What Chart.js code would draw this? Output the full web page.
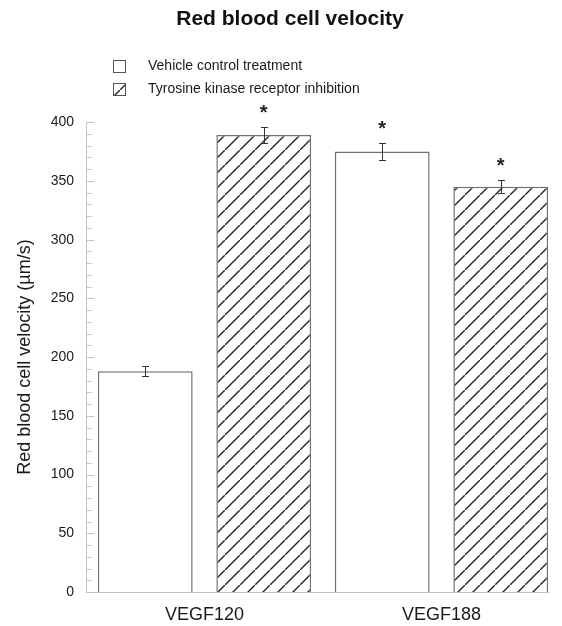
<!DOCTYPE html>
<html lang="en">
<head>
<meta charset="utf-8">
<title>Red blood cell velocity</title>
<script src="https://cdn.jsdelivr.net/npm/chart.js@4"></script>
<style>
  html, body { margin: 0; padding: 0; background: #fff; }
  #velocityChart { display: block; }
</style>
</head>
<body>
<canvas id="velocityChart" width="562" height="626"></canvas>
<script>
// Datos
const categories = ['VEGF120', 'VEGF188'];
const seriesLabels = ['Vehicle control treatment', 'Tyrosine kinase receptor inhibition'];
const vehicleValues = [188, 375];
const vehicleErrors = [4, 7];
const vehicleSignificant = [false, true];
const inhibitionValues = [389, 345];
const inhibitionErrors = [7, 5.5];
const inhibitionSignificant = [true, true];
const yTicks = [0, 50, 100, 150, 200, 250, 300, 350, 400];
const yMinorStep = 10;

const FONT = "'Liberation Sans', Arial, Helvetica, sans-serif";
const AXIS_COLOR = '#c4c4c4';
const BAR_BORDER = '#707070';

// Patrón de rayas diagonales para la serie de inhibición
function makeHatch() {
    const size = 15;
    const c = document.createElement('canvas');
    c.width = size;
    c.height = size;
    const g = c.getContext('2d');
    g.fillStyle = '#fff';
    g.fillRect(0, 0, size, size);
    g.strokeStyle = '#262626';
    g.lineWidth = 1.4;
    g.beginPath();
    g.moveTo(-2, size + 2);
    g.lineTo(size + 2, -2);
    g.stroke();
    return g.createPattern(c, 'repeat');
}

// Barras de error y asteriscos
const errorBarsPlugin = {
    id: 'errorBars',
    afterDatasetsDraw(chart) {
        const ctx = chart.ctx;
        const y = chart.scales.y;
        const errs = [vehicleErrors, inhibitionErrors];
        const sig = [vehicleSignificant, inhibitionSignificant];
        chart.data.datasets.forEach((ds, di) => {
            const meta = chart.getDatasetMeta(di);
            meta.data.forEach((bar, i) => {
                const v = ds.data[i];
                const e = errs[di][i];
                const top = Math.round(y.getPixelForValue(v + e)) + 0.5;
                const bot = Math.round(y.getPixelForValue(v - e)) + 0.5;
                const x = Math.round(bar.x) + 0.5;
                ctx.save();
                ctx.strokeStyle = '#333';
                ctx.lineWidth = 1;
                ctx.beginPath();
                ctx.moveTo(x, top); ctx.lineTo(x, bot);
                ctx.moveTo(x - 3.5, top); ctx.lineTo(x + 3.5, top);
                ctx.moveTo(x - 3.5, bot); ctx.lineTo(x + 3.5, bot);
                ctx.stroke();
                if (sig[di][i]) {
                    ctx.fillStyle = '#222';
                    ctx.font = 'bold 20px ' + FONT;
                    ctx.textAlign = 'center';
                    ctx.textBaseline = 'alphabetic';
                    ctx.fillText('*', bar.x, top - 9);
                }
                ctx.restore();
            });
        });
    }
};

// Línea del eje x y marcas menores/mayores del eje y (hacia dentro)
const axisPlugin = {
    id: 'axisTicks',
    afterDraw(chart) {
        const { ctx, chartArea, scales: { y } } = chart;
        const majorStep = yTicks[1] - yTicks[0];
        let right = chartArea.left;
        chart.getSortedVisibleDatasetMetas().forEach(m => {
            m.data.forEach(b => { right = Math.max(right, b.x + b.width / 2); });
        });
        ctx.save();
        ctx.strokeStyle = AXIS_COLOR;
        ctx.lineWidth = 1;
        ctx.beginPath();
        const yb = Math.round(chartArea.bottom) + 0.5;
        ctx.moveTo(chartArea.left, yb);
        ctx.lineTo(right + 1, yb);
        const x0 = Math.round(chartArea.left) + 0.5;
        for (let v = y.min; v <= y.max; v += yMinorStep) {
            const py = Math.round(y.getPixelForValue(v)) + 0.5;
            const len = v % majorStep === 0 ? 8 : 5;
            ctx.moveTo(x0, py);
            ctx.lineTo(x0 + len, py);
        }
        ctx.stroke();
        ctx.restore();
    }
};

// Leyenda vertical a la izquierda
const legendPlugin = {
    id: 'stackedLegend',
    afterDraw(chart) {
        const ctx = chart.ctx;
        const rows = [66, 89];
        ctx.save();
        chart.data.datasets.forEach((ds, i) => {
            const cy = rows[i];
            ctx.fillStyle = ds.backgroundColor;
            ctx.fillRect(113, cy - 6, 13, 13);
            ctx.strokeStyle = '#555';
            ctx.lineWidth = 1;
            ctx.strokeRect(113.5, cy - 5.5, 12, 12);
            ctx.fillStyle = '#1a1a1a';
            ctx.font = '14px ' + FONT;
            ctx.textAlign = 'left';
            ctx.textBaseline = 'middle';
            ctx.fillText(ds.label, 148, cy);
        });
        ctx.restore();
    }
};

document.addEventListener('DOMContentLoaded', () => {
    try {
        const canvas = document.getElementById('velocityChart');
        const hatch = makeHatch();

        new Chart(canvas.getContext('2d'), {
            type: 'bar',
            data: {
                labels: categories,
                datasets: [
                    {
                        label: seriesLabels[0],
                        data: vehicleValues,
                        backgroundColor: '#ffffff',
                        borderColor: BAR_BORDER,
                        borderWidth: 1.5
                    },
                    {
                        label: seriesLabels[1],
                        data: inhibitionValues,
                        backgroundColor: hatch,
                        borderColor: BAR_BORDER,
                        borderWidth: 1.5
                    }
                ]
            },
            options: {
                responsive: false,
                animation: false,
                devicePixelRatio: 1,
                categoryPercentage: 1.0,
                barPercentage: 0.8,
                layout: { padding: { left: 20, right: 2, top: 0, bottom: 0 } },
                plugins: {
                    legend: { display: false },
                    tooltip: { enabled: false },
                    title: {
                        display: true,
                        text: 'Red blood cell velocity',
                        color: '#111',
                        font: { family: FONT, size: 21, weight: 'bold' },
                        padding: { top: 7, bottom: 90 }
                    }
                },
                scales: {
                    x: {
                        afterFit: s => { s.height = 34; },
                        grid: { display: false, drawTicks: false },
                        border: { display: false },
                        ticks: {
                            color: '#1a1a1a',
                            padding: 12,
                            font: { family: FONT, size: 18 }
                        }
                    },
                    y: {
                        min: yTicks[0],
                        max: yTicks[yTicks.length - 1],
                        afterBuildTicks: s => { s.ticks = yTicks.map(v => ({ value: v })); },
                        afterFit: s => { s.width = 66; },
                        grid: { display: false, drawTicks: false },
                        border: { display: true, color: AXIS_COLOR, width: 1 },
                        ticks: {
                            color: '#1a1a1a',
                            padding: 12,
                            font: { family: FONT, size: 14 }
                        },
                        title: {
                            display: true,
                            text: 'Red blood cell velocity (\u00b5m/s)',
                            color: '#1a1a1a',
                            font: { family: FONT, size: 18 },
                            padding: { top: -6, bottom: 0 }
                        }
                    }
                }
            },
            plugins: [axisPlugin, errorBarsPlugin, legendPlugin]
        });
    } catch (err) {
        console.error('[Chart] Error:', err);
    }
});
</script>
</body>
</html>
